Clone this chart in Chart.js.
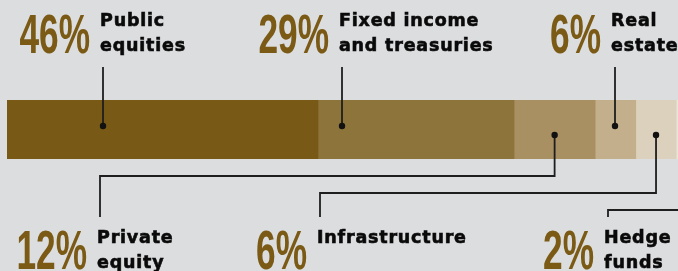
<!DOCTYPE html>
<html>
<head>
<meta charset="utf-8">
<script src="https://cdn.jsdelivr.net/npm/chart.js@4"></script>
<style>
html, body { margin: 0; padding: 0; background: #dcdddf; overflow: hidden; }
#wrap { width: 678px; height: 271px; position: relative; }
</style>
</head>
<body>
<div id="wrap"><canvas id="grafico"></canvas></div>
<script>
// datos
const categorias = ['Public equities', 'Fixed income and treasuries', 'Private equity', 'Real estate', 'Infrastructure', 'Hedge funds'];
const porcentajes = [46, 29, 12, 6, 6, 2];
const etiquetas = [['Public', 'equities'], ['Fixed income', 'and treasuries'], ['Private', 'equity'], ['Real', 'estate'], ['Infrastructure'], ['Hedge', 'funds']];
const colores = ['#785a16', '#8d743a', '#a89062', '#c3af8b', '#dcd1bd', '#ece6da'];

// donde va cada rotulo (arriba o abajo de la barra)
const rotulos = [
    { lado: 'arriba', xTexto: 100, xEnlace: 103 },
    { lado: 'arriba', xTexto: 339, xEnlace: 342 },
    { lado: 'abajo', xTexto: 97, xEnlace: 100, yCodo: 176 },
    { lado: 'arriba', xTexto: 611, xEnlace: 615 },
    { lado: 'abajo', xTexto: 317, xEnlace: 320, yCodo: 193 },
    { lado: 'abajo', xTexto: 604, xEnlace: 608, yCodo: 210 }
];

const pluginRotulos = {
    id: 'rotulos',
    afterDatasetsDraw(chart) {
        const ctx = chart.ctx;
        const x = chart.scales.x;
        let acumulado = 0;
        porcentajes.forEach((p, i) => {
            const r = rotulos[i];
            const ini = x.getPixelForValue(acumulado);
            const fin = x.getPixelForValue(acumulado + p);
            acumulado += p;
            const xPunto = (r.xEnlace > ini && r.xEnlace < fin) ? r.xEnlace : (ini + fin) / 2;
            const arriba = r.lado === 'arriba';
            const yPunto = arriba ? 126 : 135;

            ctx.save();
            ctx.strokeStyle = '#1e1e1e';
            ctx.fillStyle = '#111';
            ctx.lineWidth = 1.8;
            ctx.beginPath();
            if (arriba) {
                ctx.moveTo(xPunto, 67);
                ctx.lineTo(xPunto, yPunto);
            } else {
                ctx.moveTo(xPunto, yPunto);
                ctx.lineTo(xPunto, r.yCodo);
                ctx.lineTo(r.xEnlace, r.yCodo);
                ctx.lineTo(r.xEnlace, 217);
            }
            ctx.stroke();
            ctx.beginPath();
            ctx.arc(xPunto, yPunto, 3.2, 0, Math.PI * 2);
            ctx.fill();

            // porcentaje grande, pegado a la izquierda del nombre
            const base = arriba ? 53 : 269;
            ctx.save();
            ctx.translate(r.xTexto - 10, base);
            ctx.scale(0.63, 1);
            ctx.font = 'bold 56px "Liberation Sans"';
            ctx.textAlign = 'right';
            ctx.fillStyle = '#7a5a15';
            ctx.fillText(p + '%', 0, 0);
            ctx.restore();

            // nombre
            ctx.font = 'bold 17.5px "DejaVu Sans"';
            ctx.letterSpacing = '0.8px';
            ctx.fillStyle = '#0a0a0a';
            ctx.strokeStyle = '#0a0a0a';
            ctx.lineWidth = 0.6;
            const b1 = arriba ? 26 : 243;
            etiquetas[i].forEach((linea, k) => {
                ctx.fillText(linea, r.xTexto, b1 + k * 25);
                ctx.strokeText(linea, r.xTexto, b1 + k * 25);
            });
            ctx.restore();
        });
    }
};

new Chart(document.getElementById('grafico'), {
    type: 'bar',
    data: {
        labels: [''],
        datasets: categorias.map((c, i) => ({
            label: c,
            data: [porcentajes[i]],
            backgroundColor: colores[i],
            borderWidth: 0,
            barPercentage: 1,
            categoryPercentage: 1
        }))
    },
    options: {
        indexAxis: 'y',
        responsive: true,
        maintainAspectRatio: false,
        animation: false,
        layout: { padding: { left: 7, right: 0, top: 100, bottom: 112 } },
        scales: {
            x: { stacked: true, min: 0, max: 99.25, display: false },
            y: { stacked: true, display: false }
        },
        plugins: { legend: { display: false }, tooltip: { enabled: false } }
    },
    plugins: [pluginRotulos]
});
</script>
</body>
</html>
